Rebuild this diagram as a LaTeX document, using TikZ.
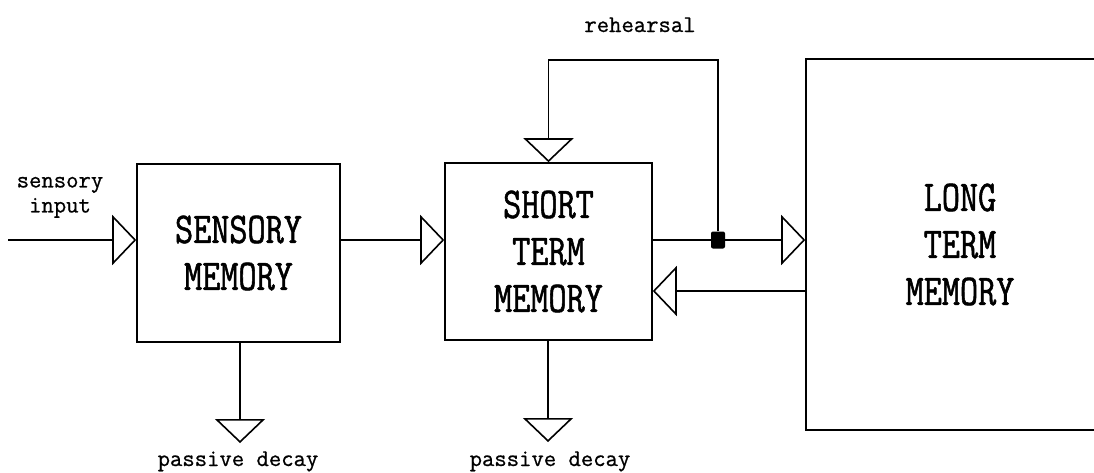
\documentclass[tikz,border=0pt]{standalone}
\usepackage{fontspec}
\usetikzlibrary{arrows.meta}

\newfontfamily\boxfont[FakeStretch=0.8, FakeBold=1.2]{Latin Modern Mono}
\newfontfamily\labelfont[FakeBold=0.8]{Latin Modern Mono}

\tikzset{
	block/.style={draw, line width=1.6pt, inner sep=0pt, align=center,
		font=\boxfont\fontsize{44}{47}\selectfont},
	link/.style={line width=1.6pt},
	flow/.style={line width=1.6pt, -{Triangle[open, length=24pt, width=50pt, line width=1.6pt]}},
	lbl/.style={inner sep=0pt, align=center, font=\labelfont\fontsize{24}{25}\selectfont},
	junction/.style={fill, rectangle, rounded corners=2pt, minimum width=14pt, minimum height=17pt, inner sep=0pt}
}

\begin{document}
\begin{tikzpicture}[x=1pt, y=-1pt]
				\useasboundingbox (0,0) rectangle (1094,472);
				\clip (0,0) rectangle (1094,472);
				% memory stores
				\node[block, minimum width=203pt, minimum height=178pt] (sm) at (238.5,253) {SENSORY\\MEMORY};
				\node[block, minimum width=207pt, minimum height=177pt] (stm) at (548.5,251.5) {SHORT\\TERM\\MEMORY};
				\node[block, minimum width=308pt, minimum height=371pt] (ltm) at (960,244.5) {LONG\\TERM\\MEMORY};
				\node[junction] (junc) at (718,240) {};
				\coordinate (inp) at (8,240);
				\coordinate (ret) at (700,291);
				\coordinate (rtop) at (718,60);
				\coordinate (smdecay) at (240,443);
				\coordinate (stmdecay) at (548,442);
				% labels
				\node[lbl, anchor=south] (inlbl) at (60,218) {sensory\\input};
				\node[lbl, anchor=base] (rehlbl) at (640,32) {rehearsal};
				\node[lbl, anchor=base] (smdlbl) at (238,466) {passive decay};
				\node[lbl, anchor=base] (stmdlbl) at (550,466) {passive decay};
				% connections
				\draw[flow] (inp) -- (sm.west |- inp);
				\draw[flow] (sm.east |- inp) -- (stm.west |- inp);
				\draw[link] (stm.east |- inp) -- (junc);
				\draw[flow] (junc) -- (ltm.west |- inp);
				\draw[flow] (junc) -- (rtop) -| (stm.north);
				\draw[flow] (ltm.west |- ret) -- (stm.east |- ret);
				\draw[flow] (sm.south -| smdecay) -- (smdecay);
				\draw[flow] (stm.south -| stmdecay) -- (stmdecay);
			\end{tikzpicture}
\end{document}
